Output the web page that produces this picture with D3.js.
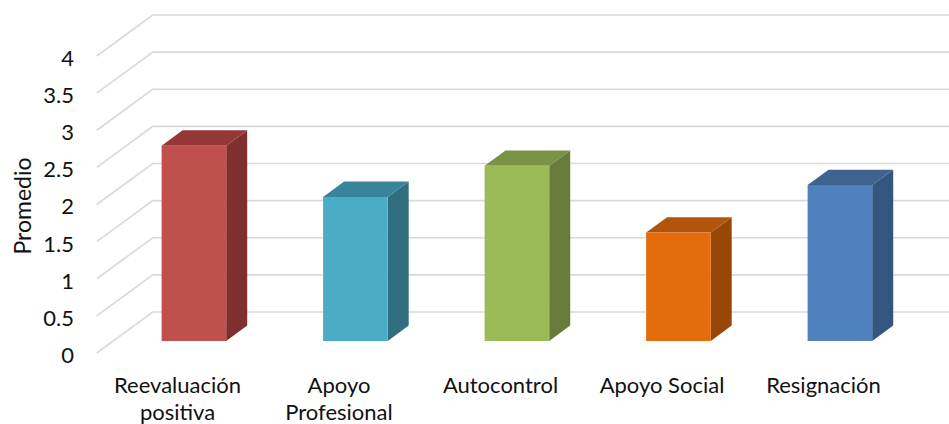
<!DOCTYPE html>
<html>
<head>
<meta charset="utf-8">
<script src="https://cdn.jsdelivr.net/npm/d3@7/dist/d3.min.js"></script>
<style>
  html, body { margin: 0; padding: 0; background: #fff; }
  svg { display: block; }
  text { font-family: Lato, "Open Sans", sans-serif; fill: #111; }
</style>
</head>
<body>
<svg id="chart" width="949" height="424"></svg>
<script>
// Coping strategies – mean score per category
const categories = [["Reevaluación", "positiva"], ["Apoyo", "Profesional"], ["Autocontrol"], ["Apoyo Social"], ["Resignación"]];
const values = [2.63, 1.94, 2.36, 1.46, 2.10];
const faceColors = ["#C0504D", "#4BACC6", "#9BBB59", "#E46C0A", "#4F81BD"];
const sideColors = ["#7F302E", "#316F80", "#677B3A", "#974807", "#34557D"];
const topColors  = ["#943835", "#38849A", "#7A9245", "#B25409", "#3E6391"];
const yTicks = [0, 0.5, 1, 1.5, 2, 2.5, 3, 3.5, 4];
const yTitle = "Promedio";

const svg = d3.select("#chart");
const W = 949;

// 3D projection: depth 0 = front plane, 1 = back wall
const DX = 56, DY = -41;
const proj = (x, y, d) => [x + d * DX, y + d * DY];

const y = d3.scaleLinear().domain([0, 4]).range([353, 56]);
const x = d3.scaleBand().domain(d3.range(categories.length)).range([96.75, 904.25]).paddingInner(0).paddingOuter(0);

// gridlines: diagonal across the side wall, then along the back wall
const grid = svg.append("g");
yTicks.forEach(t => {
  const [x0, y0] = proj(x.range()[0], y(t), 0);
  const [x1, y1] = proj(x.range()[0], y(t), 1);
  grid.append("path")
    .attr("d", `M${x0},${y0}L${x1},${y1}L${W + 5},${y1}`)
    .attr("fill", "none")
    .attr("stroke", "#d9d9d9")
    .attr("stroke-width", 1.6);
});

// y tick labels
svg.append("g").selectAll("text").data(yTicks).join("text")
  .attr("x", 74)
  .attr("y", d => y(d) + 2)
  .attr("dy", "0.36em")
  .attr("text-anchor", "end")
  .attr("font-size", 22)
  .text(d => d);

// y axis title
svg.append("text")
  .attr("transform", "translate(31,206) rotate(-90)")
  .attr("text-anchor", "middle")
  .attr("font-size", 23)
  .text(yTitle);

// bars as prisms
const d0 = 0.293, d1 = 0.668;
const barW = x.bandwidth() * 0.4;
const bars = svg.append("g");
values.forEach((v, i) => {
  const cx = x(i) + x.bandwidth() / 2;
  const xl = cx - barW / 2, xr = cx + barW / 2;
  const yb = y(0), yt = y(v);
  const fbl = proj(xl, yb, d0), fbr = proj(xr, yb, d0), ftl = proj(xl, yt, d0), ftr = proj(xr, yt, d0);
  const bbr = proj(xr, yb, d1), btl = proj(xl, yt, d1), btr = proj(xr, yt, d1);
  const poly = pts => "M" + pts.map(p => p.join(",")).join("L") + "Z";
  bars.append("path").attr("d", poly([ftr, btr, bbr, fbr])).attr("fill", sideColors[i]);
  bars.append("path").attr("d", poly([ftl, btl, btr, ftr])).attr("fill", topColors[i]);
  bars.append("path").attr("d", poly([ftl, ftr, fbr, fbl])).attr("fill", faceColors[i]);
});

// category labels (front plane)
const lab = svg.append("g");
categories.forEach((lines, i) => {
  const t = lab.append("text")
    .attr("x", x(i) + x.bandwidth() / 2)
    .attr("y", 392.5)
    .attr("text-anchor", "middle")
    .attr("font-size", 22);
  lines.forEach((s, k) => t.append("tspan")
    .attr("x", x(i) + x.bandwidth() / 2)
    .attr("dy", k === 0 ? 0 : 27.5)
    .text(s));
});
</script>
</body>
</html>
